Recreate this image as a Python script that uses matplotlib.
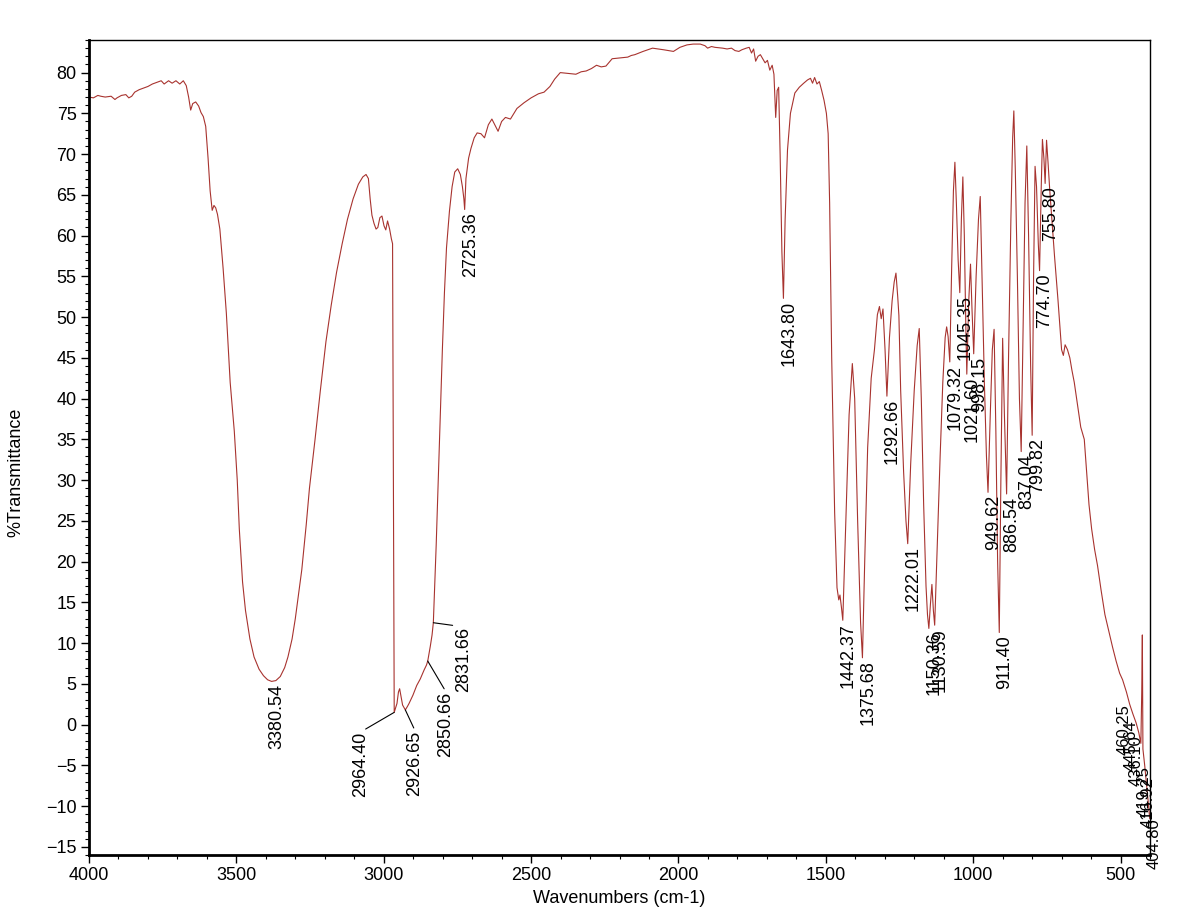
import numpy as np
import matplotlib.pyplot as plt
from matplotlib.ticker import MultipleLocator

plt.rcParams['font.family'] = ['Liberation Sans', 'DejaVu Sans']

# spectrum (wavenumber in cm-1, %T)
wavenumber = [
    4000, 3985, 3970, 3960, 3945, 3925, 3912, 3905, 3890, 3875, 3865, 3855, 3845, 3830,
    3815, 3800, 3785, 3770, 3755, 3745, 3730, 3718, 3705, 3692, 3680, 3670, 3662, 3655,
    3648, 3638, 3628, 3620, 3612, 3604, 3596, 3589, 3582, 3576, 3570, 3564, 3556, 3545,
    3534, 3521, 3507, 3497, 3490, 3479, 3469, 3454, 3440, 3423, 3408, 3394, 3380.54, 3366,
    3351, 3336, 3325, 3311, 3300, 3289, 3278, 3263, 3252, 3233, 3215, 3196, 3178, 3160,
    3141, 3123, 3104, 3086, 3071, 3060, 3052, 3046, 3040, 3033, 3026, 3020, 3013, 3006,
    2999, 2993, 2987, 2980, 2974, 2970, 2967, 2964.40, 2960, 2955, 2950, 2946, 2942, 2936,
    2926.65, 2920, 2914, 2901, 2888, 2876, 2863, 2855, 2850.66, 2842, 2836, 2831.66, 2827,
    2822, 2815, 2808, 2801, 2794, 2787, 2777, 2768, 2759, 2749, 2740, 2733, 2728, 2725.36,
    2721, 2712, 2704, 2693, 2683, 2670, 2658, 2645, 2633, 2622, 2612, 2600, 2587, 2570,
    2548, 2524, 2500, 2475, 2456, 2436, 2420, 2401, 2375, 2348, 2330, 2313, 2295, 2278,
    2262, 2246, 2225, 2200, 2172, 2160, 2148, 2120, 2088, 2050, 2017, 1995, 1971, 1950,
    1926, 1910, 1901, 1888, 1876, 1850, 1835, 1820, 1808, 1795, 1785, 1770, 1760, 1752,
    1745, 1738, 1730, 1722, 1714, 1706, 1698, 1690, 1682, 1676, 1670, 1665, 1660, 1655,
    1649, 1643.80, 1638, 1630, 1620, 1605, 1590, 1575, 1562, 1552, 1545, 1538, 1530, 1522,
    1514, 1506, 1498, 1492, 1487, 1480, 1470, 1462, 1456, 1452, 1447, 1442.37, 1432, 1421,
    1410, 1402, 1392, 1382, 1375.68, 1368, 1358, 1346, 1335, 1325, 1318, 1312, 1306, 1299,
    1292.66, 1284, 1275, 1268, 1262, 1256, 1252, 1246, 1236, 1228, 1222.01, 1212, 1200,
    1190, 1183, 1176, 1168, 1160, 1155, 1150.36, 1145, 1140, 1135, 1130.59, 1122, 1112,
    1103, 1095, 1090, 1085, 1079.32, 1073, 1067, 1062, 1057, 1051, 1045.35, 1040, 1035,
    1030, 1025, 1021.60, 1015, 1009, 1004, 998.15, 990, 982, 976, 970, 962, 955, 949.62,
    942, 935, 929, 923, 917, 911.40, 906, 900, 894, 886.54, 880, 872, 866, 862, 857, 850,
    843, 837.04, 831, 824, 818, 812, 805, 799.82, 795, 790, 785, 779, 774.70, 769, 765,
    760, 755.80, 751, 746, 740, 732, 724, 712, 700, 694, 688, 680, 672, 665, 657, 645, 635,
    623, 615, 607, 598, 588, 578, 566, 553, 540, 527, 515, 503, 493, 480, 469, 458, 447,
    438, 431, 428, 426, 424, 418, 412, 406, 401,
]
transmittance = [
    77.0, 76.9, 77.2, 77.1, 77.0, 77.1, 76.7, 76.9, 77.2, 77.3, 76.9, 77.1, 77.6, 77.9,
    78.1, 78.3, 78.6, 78.8, 79.0, 78.6, 79.0, 78.7, 79.0, 78.6, 79.0, 78.4, 77.0, 75.4,
    76.2, 76.4, 75.9, 75.1, 74.6, 73.4, 69.5, 65.5, 63.1, 63.7, 63.4, 62.6, 60.8, 56.0,
    50.5, 42.0, 36.0, 30.0, 24.0, 17.5, 14.0, 10.5, 8.3, 6.8, 6.0, 5.5, 5.3, 5.4,
    5.9, 7.0, 8.3, 10.5, 13.0, 16.0, 19.0, 24.5, 29.0, 35.0, 41.0, 47.0, 51.5, 55.5,
    59.0, 62.0, 64.5, 66.3, 67.2, 67.5, 67.0, 64.5, 62.5, 61.5, 60.8, 61.0, 62.2, 62.4,
    61.2, 60.7, 61.8, 60.8, 59.6, 59.0, 30.0, 1.5, 2.0, 2.6, 4.0, 4.4, 3.6, 2.4,
    1.8, 2.2, 2.6, 3.6, 4.8, 5.6, 6.7, 7.3, 7.8, 9.6, 11.0, 12.5, 17.0,
    22.0, 30.0, 38.0, 46.0, 53.0, 58.5, 63.0, 66.0, 67.8, 68.2, 67.5, 66.0, 64.5, 63.2,
    67.0, 69.5, 70.7, 72.0, 72.6, 72.5, 72.0, 73.6, 74.3, 73.5, 72.8, 74.0, 74.5, 74.3,
    75.6, 76.3, 76.9, 77.4, 77.6, 78.3, 79.2, 80.0, 79.9, 79.8, 80.1, 80.2, 80.5, 80.9,
    80.7, 80.8, 81.7, 81.8, 81.9, 82.1, 82.2, 82.6, 83.0, 82.8, 82.6, 83.1, 83.4, 83.5,
    83.5, 83.3, 83.0, 83.2, 83.1, 83.0, 82.9, 83.0, 82.7, 82.6, 82.8, 83.0, 83.1, 82.4,
    82.9, 81.4, 82.0, 82.2, 81.7, 81.2, 81.5, 80.3, 80.9, 79.8, 74.5, 77.8, 78.2, 70.0,
    58.0, 52.3, 62.0, 70.5, 75.0, 77.5, 78.2, 78.7, 79.1, 79.3, 78.7, 79.4, 78.6, 78.9,
    77.8, 76.6, 75.0, 72.5, 64.0, 45.0, 26.0, 16.8, 15.3, 15.9, 14.4, 12.8, 25.0, 38.0,
    44.3, 40.0, 25.0, 12.5, 8.2, 20.0, 34.0, 42.5, 46.0, 50.3, 51.3, 49.8, 51.0, 46.0,
    40.3, 47.5, 52.0, 54.3, 55.4, 52.5, 50.2, 41.0, 31.0, 25.0, 22.2, 32.0, 41.0,
    46.5, 48.6, 40.0, 27.0, 17.0, 13.5, 11.8, 14.8, 17.2, 14.0, 12.2, 22.0, 33.0,
    42.0, 47.5, 48.8, 47.6, 44.5, 56.0, 65.5, 69.0, 64.0, 57.0, 53.0, 62.0, 67.2,
    60.0, 49.0, 43.0, 52.0, 56.5, 51.0, 45.5, 55.0, 62.0, 64.8, 55.0, 42.0, 33.0, 28.5,
    38.0, 46.0, 48.5, 36.0, 20.0, 11.3, 30.0, 47.4, 38.0, 28.3, 45.0, 62.0, 72.0, 75.3, 68.0, 55.0,
    40.0, 33.5, 48.0, 64.0, 71.0, 60.0, 44.0, 35.5, 55.0, 68.5, 66.0, 59.0, 55.7, 66.0, 71.8,
    69.5, 66.4, 71.7, 69.0, 65.5, 61.5, 57.5, 52.0, 46.0, 45.3, 46.6, 46.0, 45.0, 43.5, 42.0, 39.0, 36.5,
    35.0, 31.0, 27.0, 24.0, 21.5, 19.5, 16.5, 13.5, 11.5, 9.5, 7.8, 6.3, 5.5, 4.0, 2.5, 1.3, 0.2,
    -1.0, -2.3, 4.0, 11.0, -3.0, -5.0, -7.2, -9.5, -11.5,
]

peak_wn = [3380.54, 2964.40, 2926.65, 2850.66, 2831.66, 2725.36, 1643.80, 1442.37,
           1375.68, 1292.66, 1222.01, 1150.36, 1130.59, 1079.32, 1045.35, 1021.60,
           998.15, 949.62, 911.40, 886.54, 837.04, 799.82, 774.70, 755.80]
cluster_wn = [460.25, 445.64, 436.10, 419.25, 416.92, 404.80]

# labels that the software pushed aside with a leader line (offset in points)
leader = {2964.40: (-24, -14), 2926.65: (7, -15), 2850.66: (13, -22), 2831.66: (22, -3)}

fig = plt.figure(figsize=(12, 9.14), dpi=100)
ax = fig.add_axes([89 / 1200, 1 - 855 / 914, (1150 - 89) / 1200, (855 - 40) / 914])

ax.plot(wavenumber, transmittance, color='#a8332f', lw=0.8)

ax.set_xlim(4000, 400)
ax.set_ylim(-16, 84)
ax.xaxis.set_major_locator(MultipleLocator(500))
ax.xaxis.set_minor_locator(MultipleLocator(100))
ax.yaxis.set_major_locator(MultipleLocator(5))
ax.yaxis.set_minor_locator(MultipleLocator(1))
ax.set_xticks(np.arange(4000, 499, -500))
ax.set_yticks(np.arange(-15, 81, 5))
ax.tick_params(which='major', direction='out', length=6, width=1, labelsize=13, pad=3)
ax.tick_params(which='minor', direction='out', length=3, width=0.8)

for side in ['left', 'bottom']:
    ax.spines[side].set_linewidth(2)
for side in ['top', 'right']:
    ax.spines[side].set_linewidth(1)

ax.set_xlabel('Wavenumbers (cm-1)', fontsize=13, labelpad=4)
ax.set_ylabel('%Transmittance', fontsize=13)
ax.yaxis.set_label_coords(-0.061, 0.47)

wn_inc = np.array(wavenumber)[::-1]
t_inc = np.array(transmittance)[::-1]

for w in peak_wn:
    t = np.interp(w, wn_inc, t_inc)
    if w in leader:
        ax.annotate(f'{w:.2f}', xy=(w, t), xytext=leader[w], textcoords='offset points',
                    rotation=90, ha='center', va='top', fontsize=13,
                    arrowprops=dict(arrowstyle='-', lw=0.8, color='black',
                                    shrinkA=0, shrinkB=0, relpos=(0.5, 1.0)))
    else:
        ax.annotate(f'{w:.2f}', xy=(w, t), xytext=(4, -2), textcoords='offset points',
                    rotation=90, ha='center', va='top', fontsize=13)

# crowded labels at the low-wavenumber end, stacked along the falling tail
for i, w in enumerate(cluster_wn):
    t = np.interp(w, wn_inc, t_inc)
    ax.annotate(f'{w:.2f}', xy=(w, t), xytext=(-6 + 2 * i, 6 - 3 * i), textcoords='offset points',
                rotation=90, ha='center', va='top', fontsize=12, annotation_clip=False)

fig.savefig('out.png', dpi=100)
